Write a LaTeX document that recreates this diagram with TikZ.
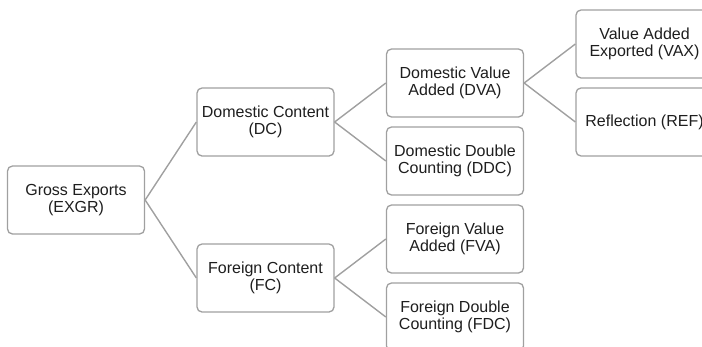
\documentclass[tikz,border=0pt]{standalone}
\usepackage{fontspec}
\setmainfont{Liberation Sans}
\definecolor{boxgray}{RGB}{160,160,160}
\definecolor{textgray}{RGB}{30,30,30}

\begin{document}
\begin{tikzpicture}[x=1pt, y=-1pt, node distance=78pt,
    box/.style={draw=boxgray, line width=1.3pt, rounded corners=5pt, fill=white,
        minimum width=137pt, minimum height=68pt, inner sep=0pt, align=center,
        text=textgray, font=\fontsize{16}{17}\selectfont},
    link/.style={draw=boxgray, line width=1.4pt}]
    \clip (0,0) rectangle (702,346);

    % Gross exports
    \node (EXGR) [box] at (76,200) {Gross Exports\\(EXGR)};

    % Content
    \node (DC) [box, right of=EXGR, xshift=111.5pt, yshift=78pt] {Domestic Content\\(DC)};
    \node (FC) [box, below of=DC, yshift=-78pt] {Foreign Content\\(FC)};

    % Value added and double counting
    \node (DVA) [box, right of=DC, xshift=111.5pt, yshift=39pt] {Domestic Value\\Added (DVA)};
    \node (DDC) [box, below of=DVA] {Domestic Double\\Counting (DDC)};
    \node (FVA) [box, below of=DDC] {Foreign Value\\Added (FVA)};
    \node (FDC) [box, below of=FVA] {Foreign Double\\Counting (FDC)};

    % Split of DVA
    \node (VAX) [box, right of=DVA, xshift=111.5pt, yshift=39pt] {Value Added\\Exported (VAX)};
    \node (REF) [box, below of=VAX] {Reflection (REF)};

    % Links
    \draw[link] (EXGR.east) -- (DC.west);
    \draw[link] (EXGR.east) -- (FC.west);
    \draw[link] (DC.east) -- (DVA.west);
    \draw[link] (DC.east) -- (DDC.west);
    \draw[link] (FC.east) -- (FVA.west);
    \draw[link] (FC.east) -- (FDC.west);
    \draw[link] (DVA.east) -- (VAX.west);
    \draw[link] (DVA.east) -- (REF.west);
\end{tikzpicture}
\end{document}
